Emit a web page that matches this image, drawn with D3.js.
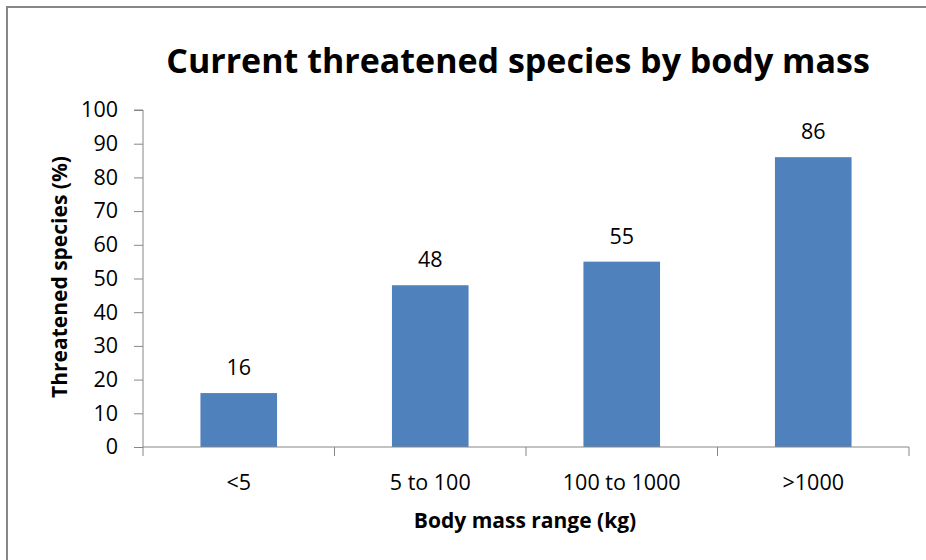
<!DOCTYPE html>
<html>
<head>
<meta charset="utf-8">
<script src="https://cdn.jsdelivr.net/npm/d3@7"></script>
<style>
  html, body { margin: 0; padding: 0; background: #fff; }
  svg { display: block; }
  text { font-family: "Open Sans", "Noto Sans", sans-serif; fill: #000; }
</style>
</head>
<body>
<svg id="chart" width="926" height="560"></svg>
<script>
const categories = ["<5", "5 to 100", "100 to 1000", ">1000"];
const values = [16, 48, 55, 86];
const yTicks = [0, 10, 20, 30, 40, 50, 60, 70, 80, 90, 100];
const titleText = "Current threatened species by body mass";
const xTitle = "Body mass range (kg)";
const yTitle = "Threatened species (%)";

const svg = d3.select("#chart");
const W = 926, H = 560;
const plot = { left: 143, right: 909, top: 110, bottom: 447 };

// outer border
svg.append("rect")
  .attr("x", 7).attr("y", 7)
  .attr("width", W).attr("height", H)
  .attr("fill", "#fff")
  .attr("stroke", "#878787").attr("stroke-width", 2);

const x = d3.scaleBand()
  .domain(categories)
  .range([plot.left, plot.right])
  .paddingInner(0.6).paddingOuter(0.3);

const y = d3.scaleLinear().domain([0, 100]).range([plot.bottom, plot.top]);

// bars
svg.append("g").selectAll("rect")
  .data(values)
  .join("rect")
  .attr("x", (d, i) => x(categories[i]))
  .attr("y", d => y(d))
  .attr("width", x.bandwidth())
  .attr("height", d => y(0) - y(d))
  .attr("fill", "#4F81BD");

// value labels
svg.append("g").selectAll("text")
  .data(values)
  .join("text")
  .attr("x", (d, i) => x(categories[i]) + x.bandwidth() / 2)
  .attr("y", d => y(d) - 18)
  .attr("text-anchor", "middle")
  .attr("font-size", 21.5)
  .text(d => d);

// y axis
const yAxis = d3.axisLeft(y).tickValues(yTicks).tickSize(9).tickPadding(16);
const gy = svg.append("g").attr("transform", `translate(${plot.left},0)`).call(yAxis);
gy.selectAll("path, line").attr("stroke", "#868686");
gy.select(".domain").attr("d", `M-9,${plot.top}H0V${plot.bottom}`);
gy.selectAll("text").attr("font-size", 21.5).attr("font-family", "'Open Sans', sans-serif").attr("fill", "#000");

// x axis with ticks at category boundaries
const gx = svg.append("g").attr("transform", `translate(0,${plot.bottom})`);
gx.append("line").attr("x1", plot.left).attr("x2", plot.right)
  .attr("y1", 0).attr("y2", 0).attr("stroke", "#868686");
const step = x.step();
const boundaries = d3.range(categories.length + 1).map(i => plot.left + i * step);
gx.selectAll("line.tick").data(boundaries).join("line")
  .attr("class", "tick")
  .attr("x1", d => d).attr("x2", d => d)
  .attr("y1", 0).attr("y2", 9).attr("stroke", "#868686");
gx.selectAll("text").data(categories).join("text")
  .attr("x", d => x(d) + x.bandwidth() / 2)
  .attr("y", 43)
  .attr("text-anchor", "middle")
  .attr("font-size", 21.5)
  .text(d => d);

// titles
svg.append("text")
  .attr("x", 518).attr("y", 73)
  .attr("text-anchor", "middle")
  .attr("font-size", 34).attr("font-weight", "bold")
  .text(titleText);

svg.append("text")
  .attr("x", 525).attr("y", 528)
  .attr("text-anchor", "middle")
  .attr("font-size", 21).attr("font-weight", "bold")
  .text(xTitle);

svg.append("text")
  .attr("transform", `translate(67,277) rotate(-90)`)
  .attr("text-anchor", "middle")
  .attr("font-size", 21).attr("font-weight", "bold")
  .text(yTitle);
</script>
</body>
</html>
